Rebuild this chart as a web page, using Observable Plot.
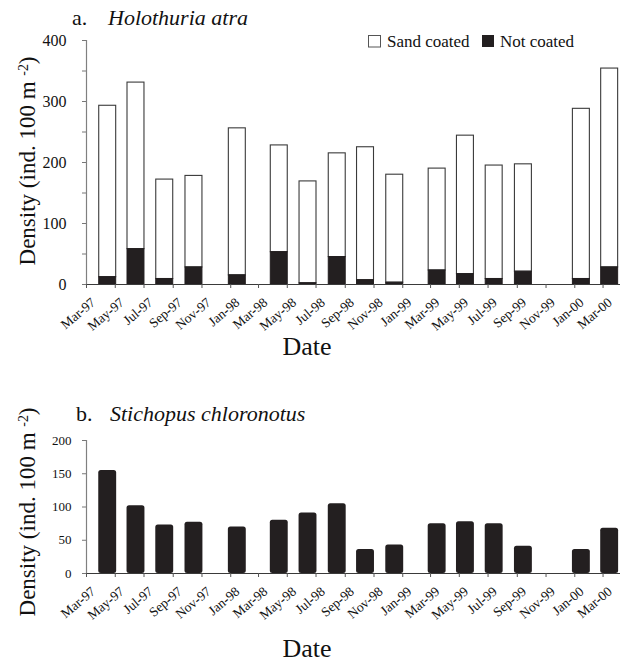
<!DOCTYPE html>
<html><head><meta charset="utf-8">
<script src="https://cdn.jsdelivr.net/npm/d3@7"></script>
<script src="https://cdn.jsdelivr.net/npm/@observablehq/plot@0.6"></script>
<style>
body{margin:0;background:#fff;}
#chart{width:623px;}
#chart svg{display:block;}
</style></head><body><div id="chart"></div>
<script>
// ---- data ----
const tickLabels = ["Mar-97","May-97","Jul-97","Sep-97","Nov-97","Jan-98","Mar-98","May-98","Jul-98","Sep-98","Nov-98","Jan-99","Mar-99","May-99","Jul-99","Sep-99","Nov-99","Jan-00","Mar-00"];
const sampleDates = ["1997-04-15","1997-06-14","1997-08-14","1997-10-15","1998-01-15","1998-04-14","1998-06-14","1998-08-15","1998-10-14","1998-12-15","1999-03-15","1999-05-14","1999-07-14","1999-09-14","2000-01-15","2000-03-15"];
const sandCoated = [281, 273, 163, 150, 241, 175, 167, 170, 218, 177, 167, 227, 186, 176, 279, 326];
const notCoated  = [12, 58, 9, 28, 15, 53, 2, 45, 7, 3, 23, 17, 9, 21, 9, 28];
const stichopus  = [155, 102, 73, 77, 70, 80, 91, 105, 36, 43, 75, 78, 75, 41, 36, 68];

// ---- build ----
const FONT = "'Liberation Serif','Times New Roman',serif";
const parseTick = d3.utcParse("%b-%y");
const tickDates = tickLabels.map(parseTick);
const labelByTime = new Map(tickDates.map((d, i) => [+d, tickLabels[i]]));
const xDomain = [tickDates[0], d3.utcDay.offset(tickDates[tickDates.length - 1], 37)];
const parseDay = d3.utcParse("%Y-%m-%d");
const holo = sampleDates.map((s, i) => ({date: parseDay(s), sand: sandCoated[i], not: notCoated[i]}));
const sti = sampleDates.map((s, i) => ({date: parseDay(s), value: stichopus[i]}));
const halfA = 18, halfB = 19;

function xAxis() {
  return [
    Plot.ruleY([0], {stroke: "#3a3a3a", strokeWidth: 1.2}),
    Plot.axisX({ticks: tickDates, tickFormat: () => "", tickSize: 4, label: null, stroke: "#555"}),
    Plot.axisX({ticks: tickDates, tickFormat: d => labelByTime.get(+d), tickRotate: -40,
      tickSize: 0, tickPadding: 16, fontSize: 13.5, dx: 7, label: null, fill: "#111"})
  ];
}

const plotA = Plot.plot({
  width: 623, height: 345,
  marginLeft: 86, marginRight: 3, marginTop: 40, marginBottom: 61,
  style: {fontFamily: FONT, background: "white", color: "#111", overflow: "visible"},
  x: {type: "utc", domain: xDomain},
  y: {domain: [0, 400]},
  marks: [
    Plot.rect(holo, {x1: d => d3.utcDay.offset(d.date, -halfA), x2: d => d3.utcDay.offset(d.date, halfA),
      y1: d => d.not, y2: d => d.not + d.sand, fill: "white", stroke: "#3a3a3a", strokeWidth: 1.1}),
    Plot.rect(holo, {x1: d => d3.utcDay.offset(d.date, -halfA), x2: d => d3.utcDay.offset(d.date, halfA),
      y1: 0, y2: "not", fill: "#231f20", stroke: "#231f20", strokeWidth: 1}),
    Plot.ruleX([tickDates[0]], {stroke: "#808080", strokeWidth: 1.2}),
    Plot.axisY({ticks: d3.range(0, 401, 50), tickFormat: d => d % 100 === 0 ? d : "",
      tickSize: 4, tickPadding: 16, fontSize: 16, label: null, stroke: "#777"}),
    ...xAxis()
  ]
});

const plotB = Plot.plot({
  width: 623, height: 319,
  marginLeft: 86, marginRight: 3, marginTop: 95, marginBottom: 91,
  style: {fontFamily: FONT, background: "white", color: "#111", overflow: "visible"},
  x: {type: "utc", domain: xDomain},
  y: {domain: [0, 200]},
  marks: [
    Plot.rect(sti, {x1: d => d3.utcDay.offset(d.date, -halfB), x2: d => d3.utcDay.offset(d.date, halfB),
      y1: 0, y2: "value", fill: "#231f20", rx: 2.5}),
    Plot.ruleX([tickDates[0]], {stroke: "#808080", strokeWidth: 1.2}),
    Plot.axisY({ticks: d3.range(0, 201, 50), tickSize: 4, tickPadding: 11, fontSize: 13, label: null, stroke: "#777"}),
    ...xAxis()
  ]
});

const root = document.getElementById("chart");
root.append(plotA, plotB);

function addText(svg, x, y, parts, size, opts = {}) {
  const t = d3.select(svg).append("text")
    .attr("font-family", FONT).attr("font-size", size).attr("fill", "#111")
    .attr("text-anchor", opts.anchor || "start");
  if (opts.rotate) t.attr("transform", `translate(${x},${y}) rotate(${opts.rotate})`);
  else t.attr("x", x).attr("y", y);
  for (const p of parts) {
    const s = t.append("tspan").text(p.text);
    if (p.italic) s.attr("font-style", "italic");
    if (p.sup) s.attr("baseline-shift", "super").attr("font-size", size * 0.6);
  }
  return t;
}
function yLabel(svg, cy) {
  addText(svg, 35, cy, [{text: "Density (ind. 100 m "}, {text: "-2", sup: true}, {text: ")"}], 23, {anchor: "middle", rotate: -90});
}

// Panel a texts
addText(plotA, 72, 25, [{text: "a."}], 22);
addText(plotA, 108, 25, [{text: "Holothuria atra", italic: true}], 22);
yLabel(plotA, 161);
addText(plotA, 307, 355, [{text: "Date"}], 26, {anchor: "middle"});
// legend
const gA = d3.select(plotA);
gA.append("rect").attr("x", 368.5).attr("y", 35.5).attr("width", 12).attr("height", 11.5).attr("fill", "white").attr("stroke", "#555");
addText(plotA, 387, 47, [{text: "Sand coated"}], 17);
gA.append("rect").attr("x", 482).attr("y", 35).attr("width", 12).attr("height", 12).attr("fill", "#231f20");
addText(plotA, 500, 47, [{text: "Not coated"}], 17);

// Panel b texts
addText(plotB, 76, 76, [{text: "b."}], 22);
addText(plotB, 110, 76, [{text: "Stichopus chloronotus", italic: true}], 22);
yLabel(plotB, 167);
addText(plotB, 307, 312, [{text: "Date"}], 26, {anchor: "middle"});
</script></body></html>
